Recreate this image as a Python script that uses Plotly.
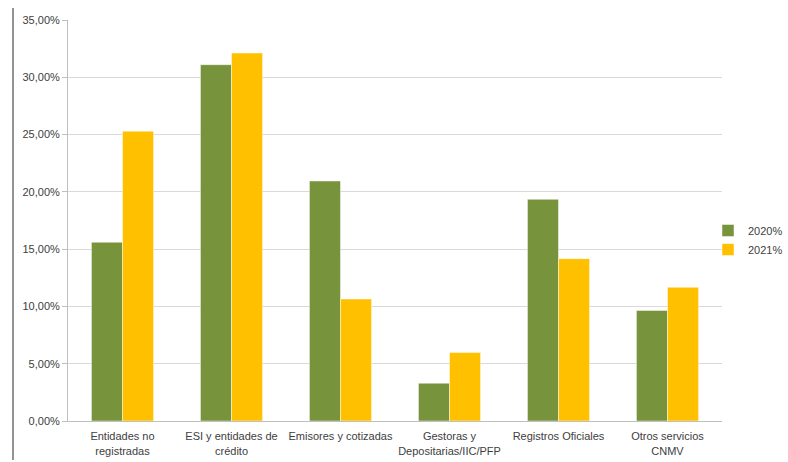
import plotly.graph_objects as go

categories = ["Entidades no<br>registradas", "ESI y entidades de<br>crédito", "Emisores y cotizadas",
              "Gestoras y<br>Depositarias/IIC/PFP", "Registros Oficiales", "Otros servicios<br>CNMV"]
series_names = ["2020%", "2021%"]
values_2020 = [0.1560, 0.3110, 0.2095, 0.0330, 0.1935, 0.0965]
values_2021 = [0.2530, 0.3212, 0.1065, 0.0597, 0.1417, 0.1167]
colors = ["#77933C", "#FFC000"]
y_ticks = [0, 0.05, 0.10, 0.15, 0.20, 0.25, 0.30, 0.35]
y_tick_labels = ["0,00%", "5,00%", "10,00%", "15,00%", "20,00%", "25,00%", "30,00%", "35,00%"]

W, H = 788, 462
ml, mr, mt, mb = 68, 66, 20, 41

fig = go.Figure()
for name, vals, col in zip(series_names, [values_2020, values_2021], colors):
    fig.add_trace(go.Bar(x=categories, y=vals, name=name, marker_color=col,
                         marker_line=dict(color="rgba(255,255,255,0.6)", width=0.8)))

plot_w = W - ml - mr
plot_h = H - mt - mb
fig.add_shape(type="line", xref="paper", yref="paper",
              x0=(13 - ml) / plot_w, x1=(13 - ml) / plot_w,
              y0=-(mb - 2) / plot_h, y1=1 + (mt - 8) / plot_h,
              line=dict(color="#595959", width=1.3))

fig.update_layout(
    width=W, height=H,
    margin=dict(l=ml, r=mr, t=mt, b=mb, autoexpand=False),
    paper_bgcolor="white", plot_bgcolor="white",
    barmode="group", bargap=0.43, bargroupgap=0,
    font=dict(family="Liberation Sans Narrow, Liberation Sans, Arial", size=11, color="#404040"),
    legend=dict(x=(708 - ml) / plot_w, y=(421 - 240) / plot_h, xanchor="left", yanchor="middle",
                font=dict(size=11, color="#404040"), itemwidth=30,
                tracegroupgap=0, bgcolor="rgba(0,0,0,0)"),
    xaxis=dict(showline=True, linecolor="#BFBFBF", linewidth=1, ticks="", tickangle=0,
               ticklabelstandoff=5, tickfont=dict(size=11, color="#404040")),
    yaxis=dict(range=[0, 0.35], tickvals=y_ticks, ticktext=y_tick_labels,
               showgrid=True, gridcolor="#D9D9D9", gridwidth=1,
               showline=True, linecolor="#BFBFBF", linewidth=1,
               ticks="outside", ticklen=5, tickcolor="#BFBFBF",
               zeroline=False, tickfont=dict(size=11, color="#404040")),
)

fig.write_html("out.html")
